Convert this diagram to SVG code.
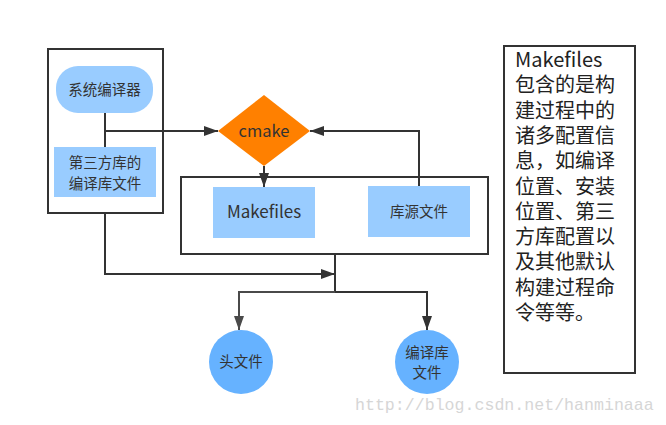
<svg xmlns="http://www.w3.org/2000/svg" width="666" height="425" viewBox="0 0 666 425">
<defs>
<marker id="ah" viewBox="0 0 14 10" refX="14" refY="5" markerWidth="14" markerHeight="10" markerUnits="userSpaceOnUse" orient="auto">
<path d="M0,0 L14,5 L0,10 Z" fill="#333"/>
</marker>
<marker id="ahg" viewBox="0 0 14 10" refX="14" refY="5" markerWidth="14" markerHeight="10" markerUnits="userSpaceOnUse" orient="auto">
<path d="M0,0 L14,5 L0,10 Z" fill="#4a4a4a"/>
</marker>
<style>
.frame{fill:none;stroke:#333;stroke-width:2}
.lt{fill:#99ccff}
.circ{fill:#66b2ff}
.t{font-family:"Noto Sans CJK SC","Noto Sans",sans-serif;fill:#333;text-anchor:middle}
.c{fill:none;stroke:#333;stroke-width:2}
.cg{fill:none;stroke:#4a4a4a;stroke-width:2}
</style>
</defs>
<rect width="666" height="425" fill="#fff"/>
<g id="left-frame"><rect class="frame" x="48" y="49" width="115" height="164"/></g>
<g id="big-frame"><rect class="frame" x="181" y="177" width="307" height="77"/></g>
<g id="connectors">
<path class="c" d="M105,113 V147"/>
<path class="c" d="M105,131 H218" marker-end="url(#ah)"/>
<path class="c" d="M419,186 V131 H310" marker-end="url(#ah)"/>
<path class="c" d="M264,166 V187" marker-end="url(#ah)"/>
<path class="c" d="M105,213 V274 H335" marker-end="url(#ah)"/>
<path class="c" d="M335,254 V292"/>
<path class="cg" d="M335,292 H239 V330" marker-end="url(#ahg)"/>
<path class="c" d="M335,292 H427 V330" marker-end="url(#ah)"/>
</g>
<g id="compiler"><rect class="lt" x="56" y="66" width="97" height="47" rx="22"/><text class="t" x="104.5" y="95" font-size="14.5">系统编译器</text></g>
<g id="thirdparty"><rect class="lt" x="54" y="147" width="102" height="50"/><text class="t" x="105" y="168" font-size="14.5">第三方库的</text><text class="t" x="105" y="189" font-size="14.5">编译库文件</text></g>
<g id="cmake"><path d="M264,95 L310,131 L264,166 L218,131 Z" fill="#ff8000"/><text class="t" x="264" y="137" font-size="16.5">cmake</text></g>
<g id="makefiles"><rect class="lt" x="213" y="187" width="102" height="51"/><text class="t" x="264" y="218" font-size="17">Makefiles</text></g>
<g id="libsrc"><rect class="lt" x="368" y="186" width="102" height="51"/><text class="t" x="419" y="217" font-size="14.5">库源文件</text></g>
<g id="header"><circle class="circ" cx="241" cy="362" r="32"/><text class="t" x="241" y="367" font-size="14.5">头文件</text></g>
<g id="libfile"><circle class="circ" cx="427" cy="362" r="32"/><text class="t" x="427" y="358" font-size="14.5">编译库</text><text class="t" x="427" y="378" font-size="14.5">文件</text></g>
<g id="note">
<rect class="frame" x="504" y="46" width="131" height="327"/>
<g font-family="'Noto Sans CJK SC','Noto Sans',sans-serif" font-size="20" fill="#222">
<text x="515" y="67">Makefiles</text>
<text x="515" y="92.3">包含的是构</text>
<text x="515" y="117.6">建过程中的</text>
<text x="515" y="142.9">诸多配置信</text>
<text x="515" y="168.2">息，如编译</text>
<text x="515" y="193.5">位置、安装</text>
<text x="515" y="218.8">位置、第三</text>
<text x="515" y="244.1">方库配置以</text>
<text x="515" y="269.4">及其他默认</text>
<text x="515" y="294.7">构建过程命</text>
<text x="515" y="320">令等等。</text>
</g>
</g>
<text x="355" y="410" font-family="'Liberation Mono',monospace" font-size="16.6" fill="#d6d6d6">http://blog.csdn.net/hanminaaa</text>
</svg>
